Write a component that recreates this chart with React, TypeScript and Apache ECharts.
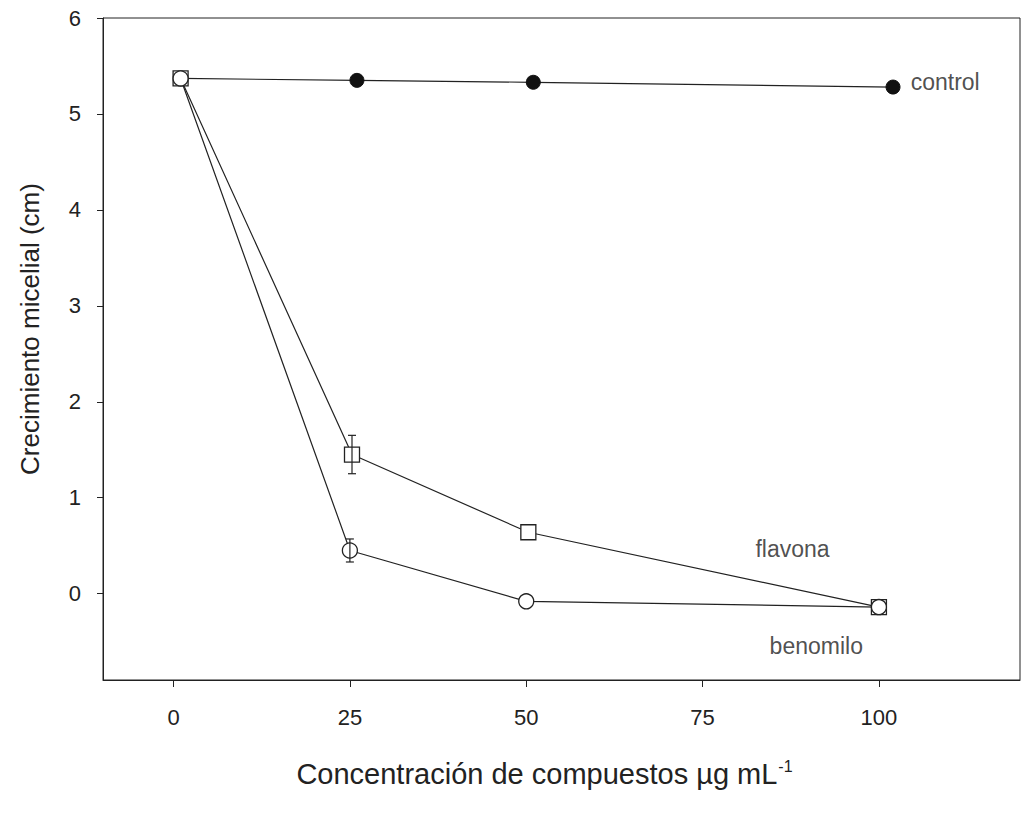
import React, { useEffect, useRef } from "react";
import * as echarts from "echarts";

const xTicks = [0, 25, 50, 75, 100];
const yTicks = [0, 1, 2, 3, 4, 5, 6];

const controlData: [number, number][] = [
  [1, 5.37],
  [26, 5.35],
  [51, 5.33],
  [102, 5.28],
];
const flavonaData: [number, number][] = [
  [1, 5.37],
  [25.3, 1.45],
  [50.3, 0.64],
  [100, -0.14],
];
const benomiloData: [number, number][] = [
  [1, 5.37],
  [25, 0.45],
  [50, -0.08],
  [100, -0.14],
];
// [x, low, high]
const errorBars: [number, number, number][] = [
  [25.3, 1.25, 1.65],
  [25, 0.33, 0.57],
];

const seriesLabels = [
  { name: "control", x: 104.5, y: 5.33 },
  { name: "flavona", x: 82.5, y: 0.47 },
  { name: "benomilo", x: 84.5, y: -0.55 },
];

const FONT = "'Liberation Sans', Arial, sans-serif";
const INK = "#222";

export default function App() {
  const ref = useRef<HTMLDivElement>(null);
  useEffect(() => {
    const chart = echarts.init(ref.current!, null, { renderer: "svg" });
    const openSym = { color: "#fff", borderColor: INK, borderWidth: 1.3 };
    chart.setOption({
      animation: false,
      backgroundColor: "#fff",
      grid: {
        left: 103,
        top: 18,
        right: 4,
        bottom: 140,
        show: true,
        borderColor: INK,
        borderWidth: 1,
        backgroundColor: "transparent",
      },
      xAxis: {
        type: "value",
        min: -10,
        max: 120,
        splitLine: { show: false },
        axisLine: { show: true, onZero: false, lineStyle: { color: INK } },
        axisTick: {
          show: true,
          inside: false,
          length: 7,
          customValues: xTicks,
          lineStyle: { color: INK },
        },
        axisLabel: {
          customValues: xTicks,
          margin: 26,
          fontSize: 22,
          color: INK,
          fontFamily: FONT,
        },
        name: "{a|Concentración de compuestos µg mL}{s|-1}",
        nameLocation: "middle",
        nameGap: 78,
        nameTextStyle: {
          padding: [0, 34, 0, 0],
          rich: {
            a: { fontSize: 29, color: INK, fontFamily: FONT },
            s: { fontSize: 16, color: INK, fontFamily: FONT, verticalAlign: "top", padding: [0, 0, 15, 1] },
          },
        },
      },
      yAxis: {
        type: "value",
        min: -0.9,
        max: 6,
        splitLine: { show: false },
        axisLine: { show: true, onZero: false, lineStyle: { color: INK } },
        axisTick: {
          show: true,
          inside: false,
          length: 6,
          customValues: yTicks,
          lineStyle: { color: INK },
        },
        axisLabel: {
          customValues: yTicks,
          margin: 22,
          fontSize: 22,
          color: INK,
          fontFamily: FONT,
        },
        name: "Crecimiento micelial (cm)",
        nameLocation: "middle",
        nameGap: 60,
        nameTextStyle: { fontSize: 26, color: INK, fontFamily: FONT, padding: [0, 0, 0, 40] },
      },
      series: [
        {
          name: "control",
          type: "line",
          data: controlData.map((d, i) =>
            i === 0 ? { value: d, symbol: "none" } : { value: d }
          ),
          symbol: "circle",
          symbolSize: 14,
          itemStyle: { color: "#111", borderColor: "#111" },
          lineStyle: { color: INK, width: 1.2 },
          z: 2,
        },
        {
          name: "flavona",
          type: "line",
          data: flavonaData,
          symbol: "rect",
          symbolSize: 15,
          itemStyle: openSym,
          lineStyle: { color: INK, width: 1.2 },
          z: 3,
        },
        {
          name: "benomilo",
          type: "line",
          data: benomiloData,
          symbol: "circle",
          symbolSize: 15,
          itemStyle: openSym,
          lineStyle: { color: INK, width: 1.2 },
          z: 3,
        },
        {
          name: "error",
          type: "custom",
          data: errorBars,
          z: 4,
          renderItem: (params: any, api: any) => {
            const x = api.value(0);
            const lo = api.coord([x, api.value(1)]);
            const hi = api.coord([x, api.value(2)]);
            const w = 4;
            const style = { stroke: INK, lineWidth: 1.2 };
            return {
              type: "group",
              children: [
                { type: "line", shape: { x1: lo[0], y1: lo[1], x2: hi[0], y2: hi[1] }, style },
                { type: "line", shape: { x1: lo[0] - w, y1: lo[1], x2: lo[0] + w, y2: lo[1] }, style },
                { type: "line", shape: { x1: hi[0] - w, y1: hi[1], x2: hi[0] + w, y2: hi[1] }, style },
              ],
            };
          },
        },
        {
          name: "labels",
          type: "scatter",
          data: seriesLabels.map((l) => ({ value: [l.x, l.y], name: l.name })),
          symbolSize: 0,
          silent: true,
          z: 5,
          label: {
            show: true,
            position: "right",
            distance: 0,
            formatter: (p: any) => p.name,
            fontSize: 23,
            color: INK,
            fontFamily: FONT,
          },
        },
      ],
    });
    return () => chart.dispose();
  }, []);
  return (
    <div
      ref={ref}
      style={{ position: "fixed", left: 0, top: 0, width: 1024, height: 820, background: "#fff" }}
    />
  );
}
